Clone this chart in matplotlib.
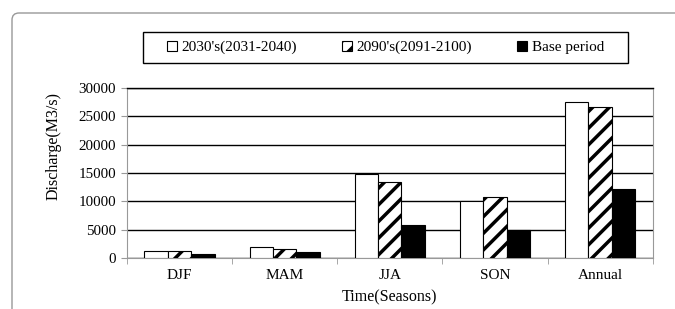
import matplotlib
matplotlib.use("Agg")
import matplotlib.pyplot as plt
import numpy as np
from matplotlib.patches import FancyBboxPatch, Rectangle

plt.rcParams['font.family'] = ['Liberation Serif', 'DejaVu Serif']
plt.rcParams['hatch.linewidth'] = 2.5

seasons = ["DJF", "MAM", "JJA", "SON", "Annual"]
series_names = ["2030's(2031-2040)", "2090's(2091-2100)", "Base period"]
s2030 = [1300, 2000, 14800, 10000, 27600]
s2090 = [1300, 1600, 13500, 10700, 26700]
base = [700, 1100, 5900, 5000, 12200]

fig = plt.figure(figsize=(6.75, 3.09), dpi=100)
ax = fig.add_axes([0.188, 0.165, 0.779, 0.55])

# outer rounded frame
frame = FancyBboxPatch((0.12, -0.5), 7.5, 3.09 - 0.13 + 0.5,
                       boxstyle="round,pad=0,rounding_size=0.07",
                       transform=fig.dpi_scale_trans, facecolor='none',
                       edgecolor='#999999', linewidth=1.0)
fig.patches.append(frame)

x = np.arange(len(seasons))
w = 0.222
ax.bar(x - w, s2030, w, color='white', edgecolor='black', linewidth=0.8,
       label=series_names[0], zorder=3)
ax.bar(x, s2090, w, color='white', edgecolor='black', linewidth=0.8,
       hatch='//', label=series_names[1], zorder=3)
ax.bar(x + w, base, w, color='black', edgecolor='black', linewidth=0.8,
       label=series_names[2], zorder=3)

ax.set_xlim(-0.5, len(seasons) - 0.5)
ax.set_ylim(0, 30000)
ax.set_yticks(np.arange(0, 30001, 5000))
ax.yaxis.grid(True, color='black', linewidth=1.0, zorder=0)
ax.set_axisbelow(True)

ax.set_xticks(x)
ax.set_xticklabels(seasons, fontsize=11)
ax.set_xticks(np.arange(-0.5, len(seasons)), minor=True)
ax.tick_params(axis='x', which='major', length=0, pad=8)
ax.tick_params(axis='x', which='minor', length=4, color='#999999', direction='out')
ax.tick_params(axis='y', length=4, color='#999999', labelsize=10.8, pad=4)

for s in ['left', 'bottom', 'right']:
    ax.spines[s].set_color('#999999')
ax.spines['top'].set_color('black')
ax.spines['top'].set_linewidth(1.0)

ax.set_xlabel("Time(Seasons)", fontsize=11.5, labelpad=5)
ax.set_ylabel("Discharge(M3/s)", fontsize=11.5)
ax.yaxis.set_label_coords(-0.125, 0.66)

# legend box
box = Rectangle((143 / 675, 1 - 63 / 309), 485 / 675, 31 / 309,
                transform=fig.transFigure, facecolor='white',
                edgecolor='black', linewidth=1.0)
fig.patches.append(box)
leg = fig.legend(loc='center left', bbox_to_anchor=(167 / 675, 1 - 47.5 / 309),
                 ncol=3, fontsize=11, frameon=False,
                 handlelength=0.65, handleheight=0.65, handletextpad=0.3,
                 columnspacing=2.95, borderpad=0, borderaxespad=0)

fig.savefig("out.png", dpi=100)
